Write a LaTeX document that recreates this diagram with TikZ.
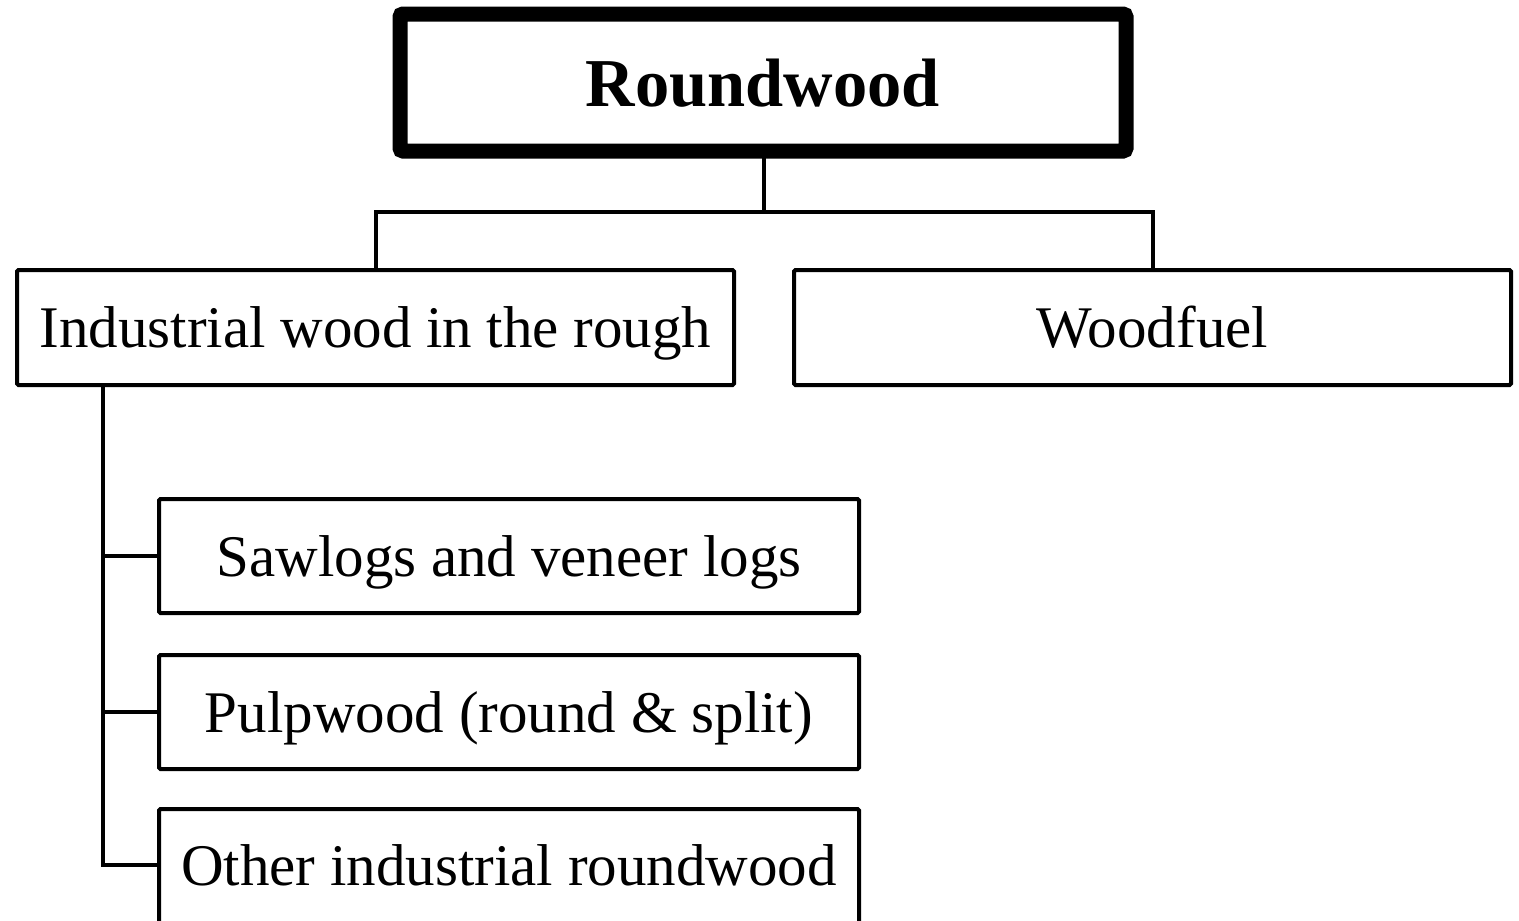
\documentclass[tikz,border=0pt]{standalone}
\usepackage{fontspec}
\setmainfont{Liberation Serif}
\begin{document}
\begin{tikzpicture}[x=1pt,y=-1pt,
  box/.style={draw, line width=4pt, outer sep=0pt, inner sep=0pt, rounded corners=1.5pt,
    font=\fontsize{59}{70}\selectfont, text height=46pt, text depth=6pt},
  topbox/.style={draw, line width=15pt, outer sep=0pt, inner sep=0pt, rounded corners=3pt,
    font=\fontsize{68.5}{82}\selectfont\bfseries, text height=48pt, text depth=0pt},
  conn/.style={line width=4pt}]
\useasboundingbox (0,0) rectangle (1519,921);
\node[topbox, minimum width=726pt, minimum height=137pt] (root) at (763,82.5) {Roundwood};
\node[box, minimum width=717pt, minimum height=115pt] (ind) at (375.5,327.5) {Industrial wood in the rough};
\node[box, minimum width=717pt, minimum height=115pt] (fuel) at (1152.5,327.5) {Woodfuel};
\node[box, minimum width=700pt, minimum height=114pt] (saw) at (509,556) {Sawlogs and veneer logs};
\node[box, minimum width=700pt, minimum height=114pt] (pulp) at (509,712) {Pulpwood (round \& split)};
\node[box, minimum width=700pt, minimum height=120pt, text depth=14pt] (other) at (509,869) {Other industrial roundwood};
\coordinate (split) at (764,212);
\coordinate (trunk) at (103,385);
\coordinate (otherjoin) at (159,865);
\draw[conn] (root.south -| split) -- (split);
\draw[conn] (ind.north) |- (split) -| (fuel.north);
\draw[conn] (trunk) |- (otherjoin);
\draw[conn] (trunk) |- (saw.west);
\draw[conn] (trunk) |- (pulp.west);
\end{tikzpicture}
\end{document}
